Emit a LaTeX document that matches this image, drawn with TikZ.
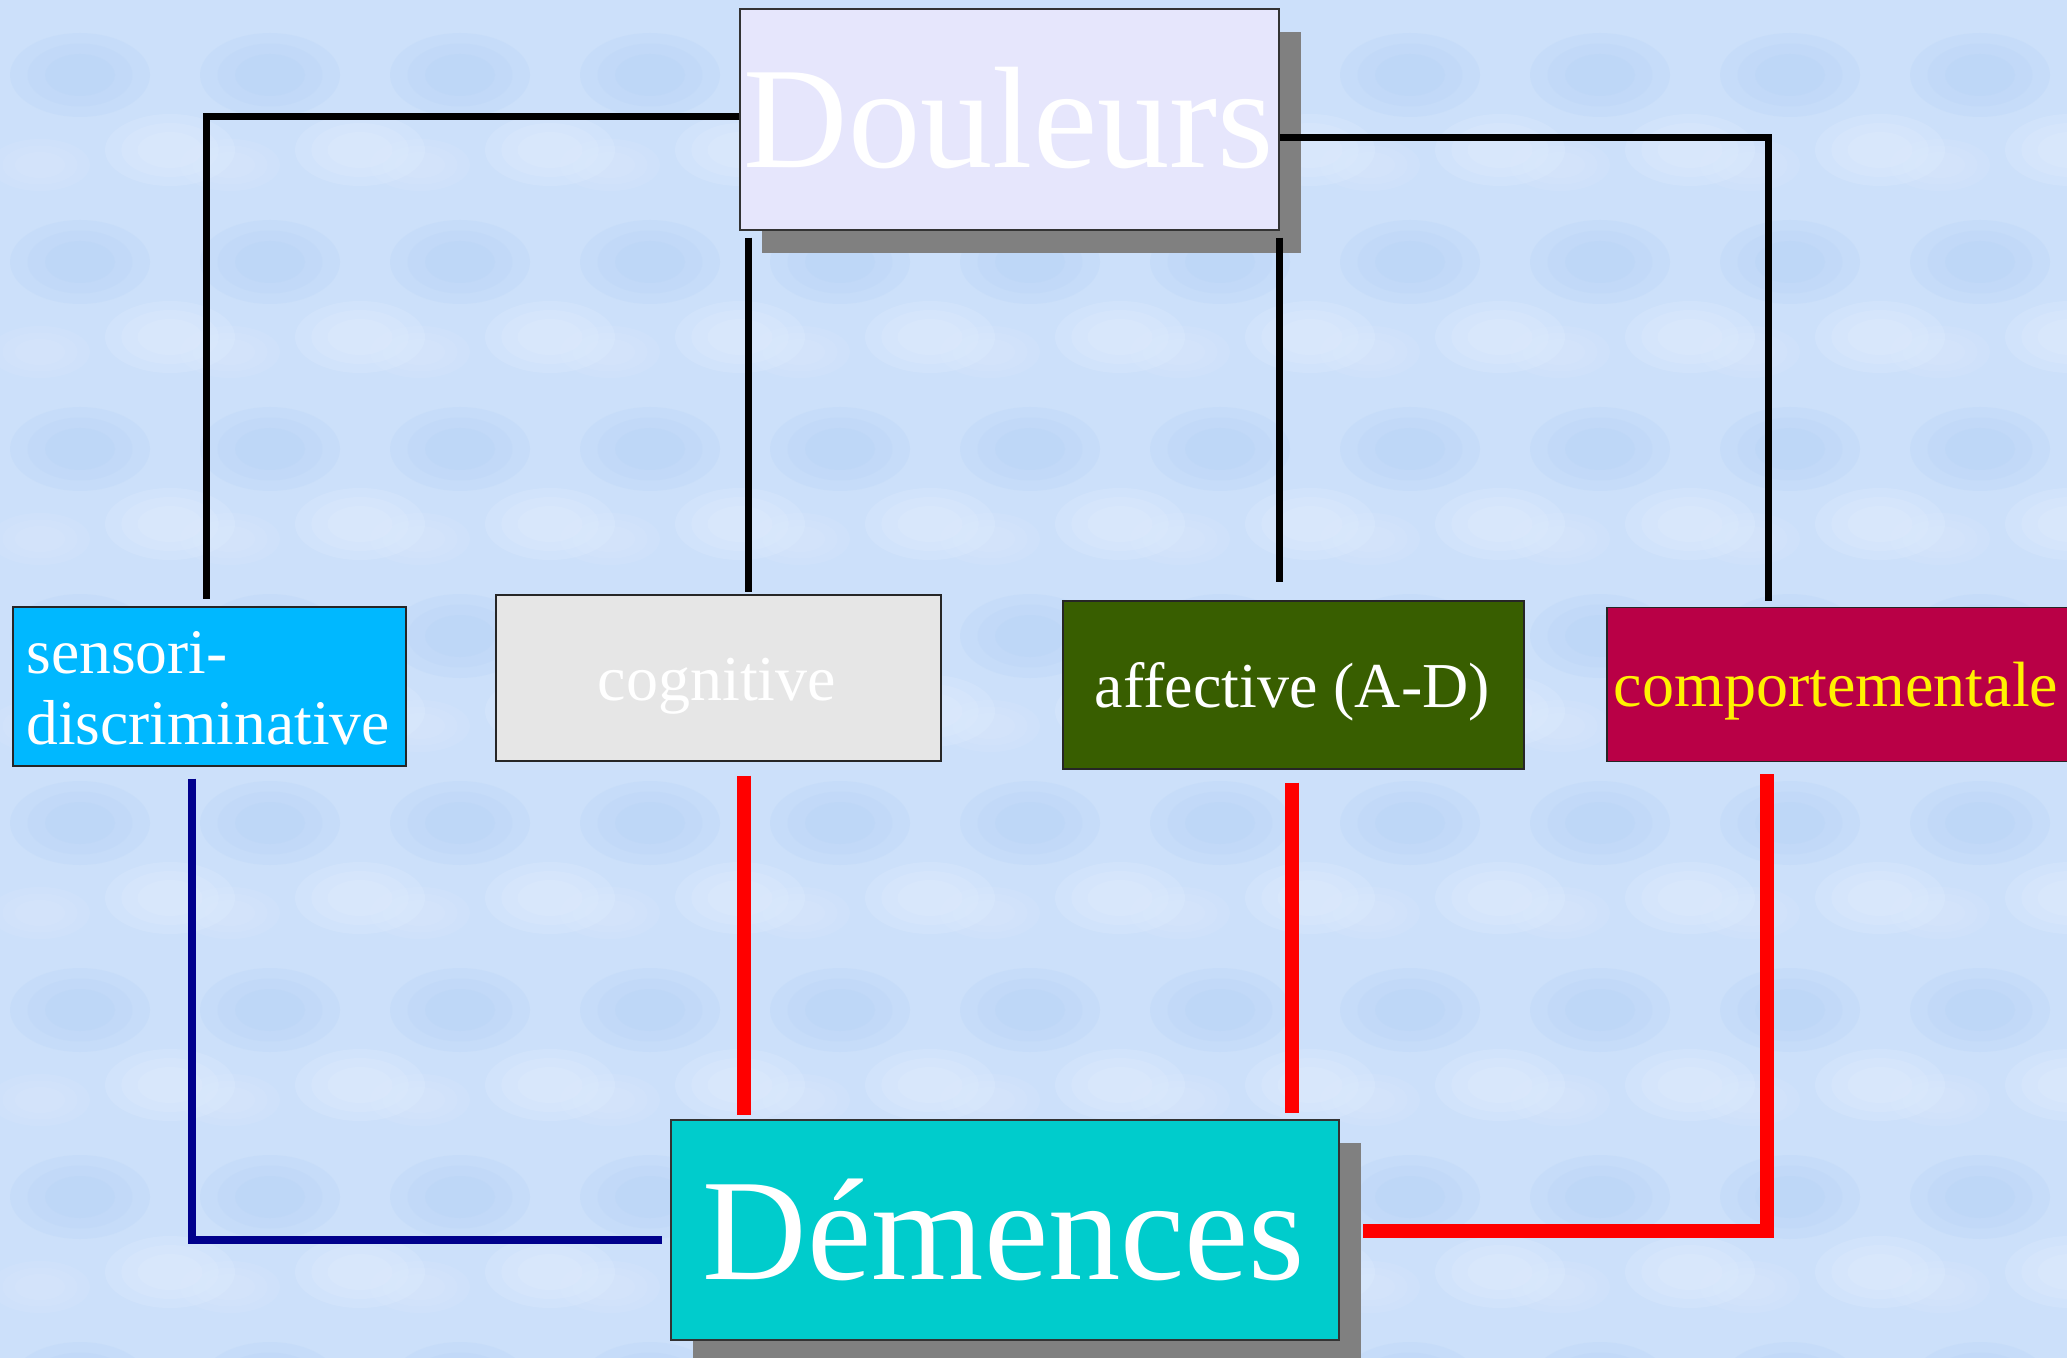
\documentclass[tikz,border=0pt]{standalone}
\usepackage{fontspec}
\setmainfont{Liberation Serif}
\usetikzlibrary{shadows}
\definecolor{bgblue}{RGB}{204,224,250}
\definecolor{bgdark}{RGB}{180,210,246}
\definecolor{bglight}{RGB}{226,237,254}
\definecolor{lav}{RGB}{230,230,252}
\definecolor{shgray}{RGB}{128,128,128}
\definecolor{sky}{RGB}{0,184,255}
\definecolor{lgray}{RGB}{230,230,230}
\definecolor{dgreen}{RGB}{56,94,0}
\definecolor{crim}{RGB}{185,0,70}
\definecolor{teal}{RGB}{0,204,204}
\definecolor{navyl}{RGB}{0,0,140}
\tikzset{
  bigbox/.style={draw=black!80,line width=0.75pt,inner sep=0pt,
    drop shadow={shadow xshift=11pt,shadow yshift=-11.5pt,fill=shgray,opacity=1}},
  smallbox/.style={draw=black!85,line width=0.7pt,inner sep=0pt},
  bigtxt/.style={inner sep=0pt,anchor=base,text=white,font=\fontsize{72.3pt}{80pt}\selectfont},
  smalltxt/.style={inner sep=0pt,anchor=base,text=white,font=\fontsize{32pt}{36pt}\selectfont},
  blk/.style={draw=black,line width=3.5pt,line join=miter},
  nav/.style={draw=navyl,line width=4pt,line join=miter},
  rd/.style={draw=red,line width=7pt,line join=miter}
}
\begin{document}
\begin{tikzpicture}[x=0.5pt,y=-0.5pt]
\useasboundingbox (0,0) rectangle (2067,1358);
\clip (0,0) rectangle (2067,1358);
% background texture (soft, blurred blobs)
\fill[bgblue] (0,0) rectangle (2067,1358);
\foreach \i in {0,...,11}{
  \foreach \j in {0,...,7}{
    \foreach \s in {1.0,0.75,0.5}{
      \fill[bgdark,opacity=0.22] (\i*190+80,\j*187+75) ellipse ({70*\s} and {42*\s});
      \fill[bglight,opacity=0.25] (\i*190+170,\j*187+150) ellipse ({65*\s} and {36*\s});
      \fill[bglight,opacity=0.15] (\i*190+40,\j*187+165) ellipse ({50*\s} and {26*\s});
    }
  }
}
% boxes
\node[bigbox,fill=lav,minimum width=269.5pt,minimum height=110.5pt] (D) at (1009.5,119.5) {};
\node[bigtxt] (Dt) at (1009,168) {Douleurs};
\node[smallbox,fill=sky,minimum width=196.5pt,minimum height=79.5pt] (sens) at (209.5,686.5) {};
\node[smalltxt,anchor=base west,font=\fontsize{31.75pt}{36pt}\selectfont] (sens1) at (26,673) {sensori-};
\node[smalltxt,anchor=base west,font=\fontsize{31.75pt}{36pt}\selectfont] (sens2) at (26,744) {discriminative};
\node[smallbox,fill=lgray,minimum width=222.5pt,minimum height=83pt] (cog) at (718.5,678) {};
\node[smalltxt] (cogt) at (717,700) {cognitive};
\node[smallbox,fill=dgreen,minimum width=230.5pt,minimum height=84pt] (aff) at (1293.5,685) {};
\node[smalltxt] (afft) at (1292.5,707) {affective (A-D)};
\node[smallbox,fill=crim,minimum width=231.5pt,minimum height=77pt] (comp) at (1838.5,684.5) {};
\node[smalltxt,text=yellow] (compt) at (1836,706) {comportementale};
\node[bigbox,fill=teal,minimum width=334pt,minimum height=110pt] (M) at (1005,1230) {};
\node[bigtxt] (Mt) at (1004,1279) {Démences};
% connectors
\coordinate (k1) at (206,117);
\draw[blk] (D.west |- k1) -- (k1) -- ([yshift=3.5pt]k1 |- sens.north);
\coordinate (k2) at (1768,138);
\draw[blk] (D.east |- k2) -- (k2) -- ([yshift=3pt]k2 |- comp.north);
\coordinate (k3) at (748,0);
\draw[blk] ([yshift=-3.5pt]k3 |- D.south) -- ([yshift=1pt]k3 |- cog.north);
\coordinate (k4) at (1279,0);
\draw[blk] ([yshift=-3.5pt]k4 |- D.south) -- ([yshift=9pt]k4 |- aff.north);
\coordinate (k5) at (192,1240);
\draw[nav] ([yshift=-6pt]k5 |- sens.south) -- (k5) -- ([xshift=-4pt]M.west |- k5);
\coordinate (k6) at (744,0);
\draw[rd] ([yshift=-7pt]k6 |- cog.south) -- ([yshift=2pt]k6 |- M.north);
\coordinate (k7) at (1292,0);
\draw[rd] ([yshift=-6.5pt]k7 |- aff.south) -- ([yshift=3pt]k7 |- M.north);
\coordinate (k8) at (1767,1231);
\draw[rd] ([yshift=-6pt]k8 |- comp.south) -- (k8) -- ([xshift=11.5pt]M.east |- k8);
\end{tikzpicture}
\end{document}
